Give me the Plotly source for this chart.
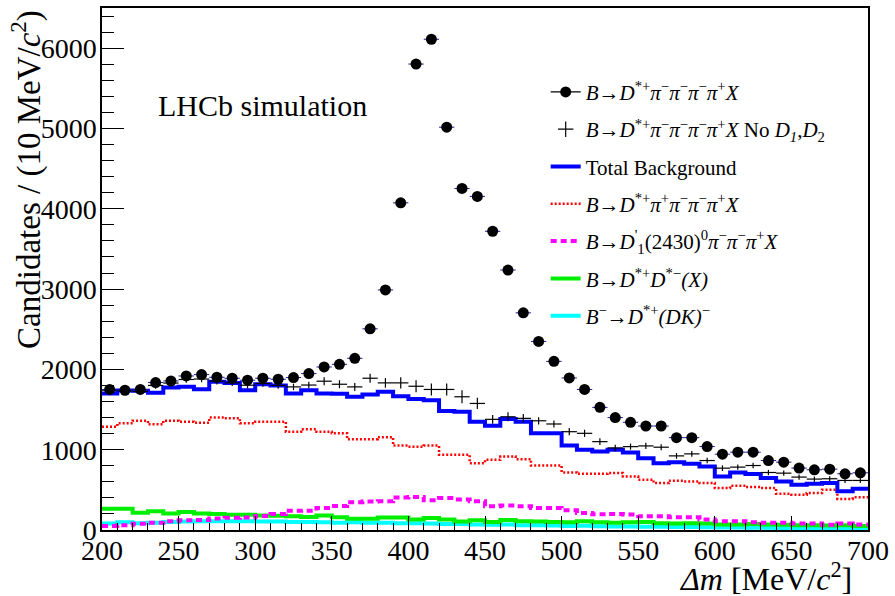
import plotly.graph_objects as go

# ---------------- data (10 MeV bins from 200 to 700) ----------------
bin_lo = 200
bin_width = 10
n_bins = 50

data_all = [1750, 1740, 1750, 1836, 1856, 1918, 1935, 1902, 1890, 1865,
            1890, 1877, 1898, 1948, 2030, 2063, 2138, 2505, 2989, 4074,
            5802, 6111, 5016, 4253, 4154, 3720, 3237, 2704, 2348, 2100,
            1893, 1750, 1527, 1400, 1341, 1295, 1295, 1150, 1150, 1039,
            944, 969, 969, 865, 845, 771, 750, 758, 700, 712]

data_noD1D2 = [1741, 1733, 1725, 1800, 1830, 1874, 1880, 1853, 1832, 1803,
               1824, 1800, 1782, 1805, 1853, 1815, 1782, 1890, 1832, 1832,
               1790, 1750, 1750, 1659, 1576, 1378, 1410, 1390, 1360, 1320,
               1224, 1204, 1100, 1022, 1038, 1047, 1031, 923, 948, 865,
               770, 783, 803, 716, 708, 659, 634, 638, 617, 617]

err_noD1D2 = [40, 40, 40, 40, 40, 40, 40, 40, 40, 40,
              40, 40, 40, 40, 50, 50, 50, 55, 60, 70,
              75, 75, 75, 80, 70, 55, 55, 55, 45, 45,
              45, 45, 42, 40, 38, 38, 38, 36, 36, 35,
              35, 34, 34, 33, 33, 32, 32, 32, 31, 31]

total_bkg = [1700, 1737, 1733, 1708, 1775, 1783, 1754, 1845, 1832, 1741,
             1816, 1800, 1700, 1741, 1700, 1696, 1659, 1688, 1720, 1667,
             1630, 1617, 1481, 1472, 1348, 1299, 1382, 1348, 1204, 1204,
             1051, 998, 977, 998, 965, 894, 832, 845, 824, 791,
             667, 716, 696, 647, 605, 564, 576, 585, 481, 514]

bkg_wrong_sign = [1286, 1328, 1360, 1316, 1360, 1348, 1336, 1402, 1390, 1328,
                  1348, 1348, 1224, 1254, 1224, 1204, 1130, 1130, 1155, 1051,
                  1038, 1051, 936, 936, 832, 874, 915, 882, 803, 803,
                  716, 700, 700, 710, 667, 626, 585, 613, 605, 585,
                  523, 551, 535, 523, 452, 440, 461, 502, 387, 407]

bkg_d1prime = [50, 58, 77, 89, 110, 121, 125, 142, 151, 155,
               175, 200, 240, 241, 275, 300, 347, 355, 357, 405,
               411, 369, 398, 380, 357, 295, 304, 295, 275, 275,
               245, 213, 195, 200, 192, 171, 171, 159, 159, 130,
               109, 109, 97, 89, 89, 80, 80, 66, 80, 68]

bkg_dstdst = [265, 265, 215, 232, 205, 225, 205, 200, 190, 190,
              180, 178, 170, 162, 180, 160, 140, 140, 155, 155,
              130, 150, 130, 105, 120, 100, 125, 110, 105, 100,
              95, 110, 95, 90, 95, 100, 85, 80, 85, 80,
              70, 70, 75, 70, 65, 60, 60, 55, 60, 50]

bkg_dk = [80, 95, 85, 90, 100, 105, 110, 110, 108, 110,
          105, 105, 100, 100, 95, 90, 95, 90, 90, 85,
          85, 80, 75, 75, 70, 65, 70, 60, 58, 55,
          50, 52, 48, 45, 45, 42, 40, 38, 36, 34,
          30, 30, 28, 28, 26, 25, 24, 22, 22, 20]

x_ticks = [200, 250, 300, 350, 400, 450, 500, 550, 600, 650, 700]
y_ticks = [0, 1000, 2000, 3000, 4000, 5000, 6000]

labels = {
    "all": "<i>B</i>→<i>D</i><sup>*+</sup><i>π</i><sup>−</sup><i>π</i><sup>−</sup><i>π</i><sup>−</sup><i>π</i><sup>+</sup><i>X</i>",
    "noD": "<i>B</i>→<i>D</i><sup>*+</sup><i>π</i><sup>−</sup><i>π</i><sup>−</sup><i>π</i><sup>−</sup><i>π</i><sup>+</sup><i>X</i> No <i>D</i><sub><i>1</i></sub>,<i>D</i><sub>2</sub>",
    "tot": "Total Background",
    "ws": "<i>B</i>→<i>D</i><sup>*+</sup><i>π</i><sup>+</sup><i>π</i><sup>−</sup><i>π</i><sup>−</sup><i>π</i><sup>+</sup><i>X</i>",
    "d1": "<i>B</i>→<i>D</i><sup>'</sup><sub>1</sub>(2430)<sup>0</sup><i>π</i><sup>−</sup><i>π</i><sup>−</sup><i>π</i><sup>+</sup><i>X</i>",
    "dd": "<i>B</i>→<i>D</i><sup>*+</sup><i>D</i><sup>*−</sup><i>(X)</i>",
    "dk": "<i>B</i><sup>−</sup>→<i>D</i><sup>*+</sup><i>(DK)</i><sup>−</sup>",
}

# ---------------- derived bin geometry ----------------
centers = [bin_lo + bin_width * (i + 0.5) for i in range(n_bins)]
edges = [bin_lo + bin_width * i for i in range(n_bins + 1)]


def steps(vals):
    return list(vals) + [vals[-1]]


FONT = "Liberation Serif"
fig = go.Figure()

hist_specs = [
    ("dk", bkg_dk, "#00ffff", 4, "solid", 7),
    ("dd", bkg_dstdst, "#00ee00", 4, "solid", 6),
    ("d1", bkg_d1prime, "#ff00ff", 4, "6px,4px", 5),
    ("ws", bkg_wrong_sign, "#ff0000", 2.5, "2px,2px", 4),
    ("tot", total_bkg, "#0000ff", 4, "solid", 3),
]
for key, vals, col, w, dash, rank in hist_specs:
    fig.add_trace(go.Scatter(
        x=edges, y=steps(vals), mode="lines", line_shape="hv",
        line=dict(color=col, width=w, dash=dash),
        name=labels[key], legendgroup=key, legendrank=rank,
    ))

# crosses (no D1, D2)
fig.add_trace(go.Scatter(
    x=centers, y=data_noD1D2, mode="markers",
    marker=dict(size=1, color="black", opacity=0),
    error_x=dict(type="constant", value=bin_width / 2, color="black", thickness=1.2, width=0),
    error_y=dict(type="data", array=err_noD1D2, color="black", thickness=1.2, width=0),
    showlegend=False,
))
# data points
fig.add_trace(go.Scatter(
    x=centers, y=data_all, mode="markers",
    marker=dict(size=11, color="black"),
    error_x=dict(type="constant", value=bin_width / 2, color="#1a1aa0", thickness=1, width=0),
    showlegend=False,
))
# legend entries for the point-like series
fig.add_trace(go.Scatter(
    x=[None], y=[None], mode="lines+markers",
    line=dict(color="black", width=1.2), marker=dict(size=11, color="black"),
    name=labels["all"], legendgroup="all", legendrank=1,
))
fig.add_trace(go.Scatter(
    x=[None], y=[None], mode="markers",
    marker=dict(symbol="cross-thin", size=11, line=dict(color="black", width=1.2)),
    name=labels["noD"], legendgroup="noD", legendrank=2,
))

fig.update_layout(
    width=895, height=596,
    margin=dict(l=102, r=23, t=6, b=66),
    paper_bgcolor="white", plot_bgcolor="white",
    font=dict(family=FONT, color="black"),
    showlegend=True,
    legend=dict(
        x=(548 - 102) / 770, y=(530 - 70) / 524, xanchor="left", yanchor="top",
        bgcolor="rgba(0,0,0,0)", font=dict(family=FONT, size=21),
        traceorder="grouped", tracegroupgap=7, itemwidth=30,
    ),
    xaxis=dict(
        range=[edges[0], edges[-1]], tickvals=x_ticks,
        ticks="inside", ticklen=14, tickwidth=1.2, tickcolor="black",
        minor=dict(ticks="inside", ticklen=7, dtick=10, tickcolor="black", tickwidth=1),
        showline=True, linecolor="black", linewidth=1.5, mirror=True,
        showgrid=False, zeroline=False, ticklabelstandoff=-5,
        tickfont=dict(family=FONT, size=28),
    ),
    yaxis=dict(
        range=[0, 6500], tickvals=y_ticks,
        ticks="inside", ticklen=22, tickwidth=1.2, tickcolor="black",
        minor=dict(ticks="inside", ticklen=12, dtick=200, tickcolor="black", tickwidth=1),
        showline=True, linecolor="black", linewidth=1.5, mirror=True,
        showgrid=False, zeroline=False, ticklabelstandoff=-2,
        tickfont=dict(family=FONT, size=28),
    ),
    annotations=[
        dict(text="LHCb simulation", xref="paper", yref="paper",
             x=(156 - 102) / 770, y=(530 - 104) / 524, xanchor="left", yanchor="middle",
             showarrow=False, font=dict(family=FONT, size=30)),
        dict(text="<i>Δm</i> [MeV/<i>c</i><sup>2</sup>]", xref="paper", yref="paper",
             x=1.0, y=(530 - 577) / 524, xanchor="right", yanchor="middle", xshift=-14,
             showarrow=False, font=dict(family=FONT, size=32)),
        dict(text="Candidates / (10 MeV/<i>c</i><sup>2</sup>)", xref="paper", yref="paper",
             x=(26 - 102) / 770, y=(530 - 6) / 524, xanchor="center", yanchor="top",
             textangle=-90, showarrow=False, font=dict(family=FONT, size=33)),
    ],
)

fig.write_html("out.html", config={"displayModeBar": False},
               post_script="document.body.style.margin='0';")
